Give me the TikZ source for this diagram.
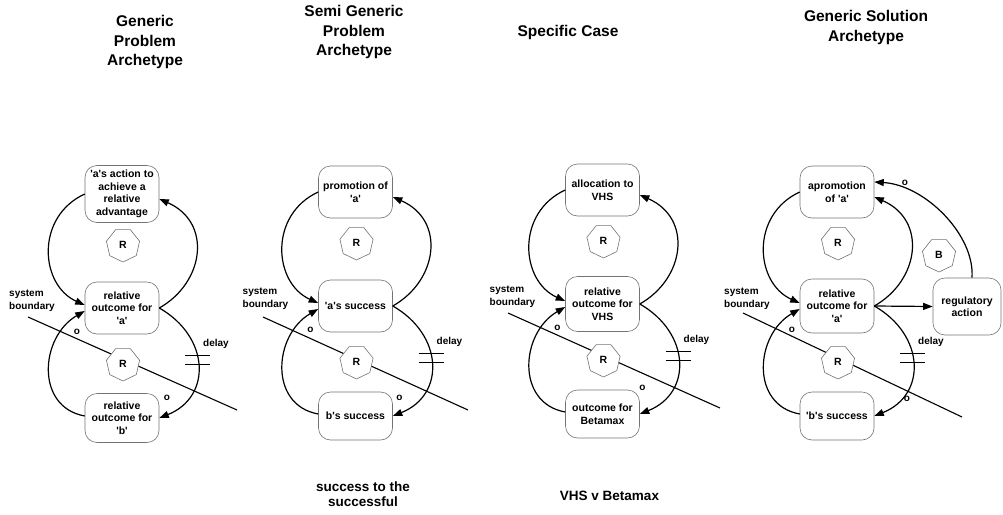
\documentclass[tikz,border=0pt]{standalone}
\usepackage{fontspec}
\setmainfont{Liberation Sans}
\usetikzlibrary{shapes.geometric,arrows.meta}
\newcommand\qq{\textquotesingle}
\newcommand\loopset[1]{%
  \draw[sb] (#1sa) -- (#1sz);
  \node[hept] (#1r1) at (1,243) {R};
  \node[hept] (#1r2) at (1,362) {R};
  \draw[arr] (#1t.west) .. controls (-87,215) and (-82,283) .. ([yshift=3pt]#1m.west);
  \draw[arr] (#1m.east) .. controls (83,280) and (90,220) .. ([yshift=-5pt]#1t.east);
  \draw[arr] (#1m.east) .. controls (88,335) and (90,395) .. (#1b.east) coordinate[pos=0.45] (#1d);
  \draw[arr] ([yshift=2pt]#1b.west) .. controls (-87,405) and (-82,335) .. ([yshift=-3pt]#1m.west);
  \draw[dl] ([xshift=-12.5pt,yshift=4.5pt]#1d) -- ++(25,0)
            ([xshift=-12.5pt,yshift=-4.5pt]#1d) -- ++(25,0);
  \node[lbl] (#1dl) at (94,342) {delay};
  \node[lbl, anchor=west, align=left] (#1sbt) at (-113,299) {system\\boundary};
  \node[lbl] (#1o1) at (-45,330) {o};
}
\begin{document}
\begin{tikzpicture}[x=1pt,y=-1pt,
  box/.style={draw=black!55, line width=0.6pt, rounded corners=12pt,
    minimum width=74pt, minimum height=52pt, align=center, inner sep=2pt,
    font=\bfseries\fontsize{10.5}{12.5}\selectfont},
  hept/.style={draw=black!55, fill=white, line width=0.6pt, regular polygon,
    regular polygon sides=7, minimum size=34pt, inner sep=0pt,
    shape border rotate=180, font=\bfseries\fontsize{10.5}{12}\selectfont},
  arr/.style={line width=1.2pt, -{Triangle[length=9.5pt,width=7pt]}},
  dl/.style={line width=0.9pt},
  sb/.style={line width=1.1pt},
  lbl/.style={font=\bfseries\fontsize{10}{12.5}\selectfont, align=center, inner sep=0pt},
  title/.style={font=\bfseries\fontsize{15.5}{19.5}\selectfont, align=center},
  bottxt/.style={font=\bfseries\fontsize{13.5}{15}\selectfont, align=center}
]
\useasboundingbox (0,0) rectangle (1003,514);

% titles
\node[title] (t1) at (145,42) {Generic\\Problem\\Archetype};
\node[title] (t2) at (354,32) {Semi Generic\\Problem\\Archetype};
\node[title] (t3) at (568,32) {Specific Case};
\node[title] (t4) at (866,27.5) {Generic Solution\\Archetype};
\node[bottxt] (s2) at (363,494.5) {success to the\\successful};
\node[bottxt] (s3) at (609.5,496) {VHS v Betamax};

% panel 1
\begin{scope}[xshift=122pt,yshift=-2pt]
  \node[box, minimum height=57pt] (p1t) at (0,192) {\qq a\qq s action to\\achieve a\\relative\\advantage};
  \node[box] (p1m) at (0,306) {relative\\outcome for\\\qq a\qq};
  \node[box, minimum height=49pt] (p1b) at (0,416) {relative\\outcome for\\\qq b\qq};
  \coordinate (p1sa) at (-94,315);
  \coordinate (p1sz) at (115,408);
  \loopset{p1}
  \node[lbl] (p1o2) at (45,396) {o};
\end{scope}

% panel 2
\begin{scope}[xshift=355.5pt]
  \node[box] (p2t) at (0,192) {promotion of\\\qq a\qq};
  \node[box] (p2m) at (0,306) {\qq a\qq s success};
  \node[box, minimum height=48pt] (p2b) at (0,416) {b\qq s success};
  \coordinate (p2sa) at (-92.5,317);
  \coordinate (p2sz) at (112.5,410);
  \loopset{p2}
  \node[lbl] (p2o2) at (44,398) {o};
\end{scope}

% panel 3
\begin{scope}[xshift=602.5pt,yshift=2pt]
  \node[box] (p3t) at (0,192) {allocation to\\VHS};
  \node[box, minimum height=55pt] (p3m) at (0,306) {relative\\outcome for\\VHS};
  \node[box, minimum height=48pt] (p3b) at (0,416) {outcome for\\Betamax};
  \coordinate (p3sa) at (-94.5,315);
  \coordinate (p3sz) at (117.5,410);
  \loopset{p3}
  \node[lbl] (p3o2) at (40,390) {o};
\end{scope}

% panel 4
\begin{scope}[xshift=837pt]
  \node[box] (p4t) at (0,192) {apromotion\\of \qq a\qq};
  \node[box, minimum height=54pt] (p4m) at (0,306) {relative\\outcome for\\\qq a\qq};
  \node[box, minimum height=48pt] (p4b) at (0,416) {\qq b\qq s success};
  \node[box, minimum width=68pt, minimum height=57pt] (p4g) at (130,306.5) {regulatory\\action};
  \coordinate (p4sa) at (-94,313);
  \coordinate (p4sz) at (125,417);
  \loopset{p4}
  \node[lbl] (p4o2) at (70,399) {o};
  \node[hept] (p4B) at (102,255) {B};
  \draw[arr] (p4m.east) -- (p4g.west);
  \draw[arr] ([xshift=5pt]p4g.north) .. controls (138,235) and (88,185) .. ([yshift=10pt]p4t.east);
  \node[lbl] (p4o3) at (68,183) {o};
\end{scope}
\end{tikzpicture}
\end{document}
